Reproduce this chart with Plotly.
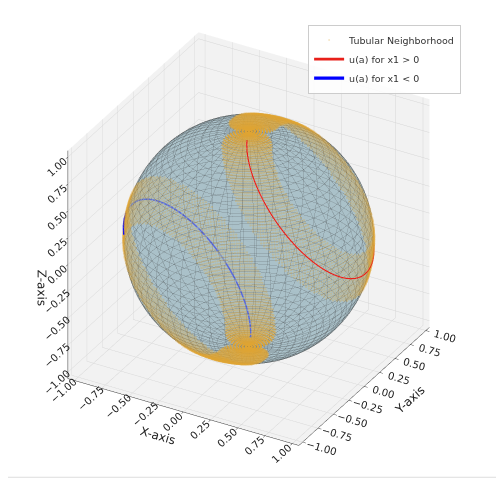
"""
Sphere with the tubular neighbourhood of u(a) and the two halves of the curve.
Writes out.html.
"""

import numpy as np
import plotly.graph_objects as go

# circle on S^2 traced by u(a): centre direction + angular radius
CIRCLE_CENTRE = [0.7065, 0.2545, 0.661]
CIRCLE_RADIUS_DEG = 48.6

# arc parameter (deg, 0 = point at the north pole)
RED_ARC_DEG = [10, 200]       # u(a) for x1 > 0 ; x1 < 0 is the antipodal arc
TUBE_ARC_DEG = [13, 347]
TUBE_HALF_WIDTH = 0.2         # rad

TICKS = [-1.0, -0.75, -0.5, -0.25, 0.0, 0.25, 0.5, 0.75, 1.0]
TICK_TEXT = [f"{t:.2f}".replace("-", "\u2212") for t in TICKS]

SPHERE_RES = 60
WIRE_LINES = 50
TUBE_GRID = (130, 260)


def circle_frame():
    c = np.array(CIRCLE_CENTRE, dtype=float)
    c /= np.linalg.norm(c)
    north = np.array([0.0, 0.0, 1.0])
    e1 = north - c.dot(north) * c
    e1 /= np.linalg.norm(e1)
    e2 = np.cross(c, e1)
    return c, e1, e2


def arc(a0, a1, n=300):
    c, e1, e2 = circle_frame()
    r = np.radians(CIRCLE_RADIUS_DEG)
    al = np.radians(np.linspace(a0, a1, n))
    return (np.cos(r) * c[None, :]
            + np.sin(r) * (np.cos(al)[:, None] * e1 + np.sin(al)[:, None] * e2))


def tube_mask(p):
    c, e1, e2 = circle_frame()
    r = np.radians(CIRCLE_RADIUS_DEG)
    beta = np.arccos(np.clip(p @ c, -1, 1))
    alpha = np.degrees(np.arctan2(p @ e2, p @ e1)) % 360
    a0, a1 = TUBE_ARC_DEG
    inside = (alpha >= a0) & (alpha <= a1)
    d_circ = np.abs(beta - r)
    ends = arc(a0, a1, 2)
    d_end = np.min(np.arccos(np.clip(p @ ends.T, -1, 1)), axis=1)
    d = np.where(inside, d_circ, d_end)
    return d < TUBE_HALF_WIDTH


fig = go.Figure()

# sphere
th = np.linspace(0, np.pi, SPHERE_RES)
ph = np.linspace(0, 2 * np.pi, SPHERE_RES)
TH, PH = np.meshgrid(th, ph)
fig.add_trace(go.Surface(
    x=np.sin(TH) * np.cos(PH), y=np.sin(TH) * np.sin(PH), z=np.cos(TH),
    colorscale=[[0, "#b6d6e2"], [1, "#b6d6e2"]],
    showscale=False, opacity=0.58, hoverinfo="skip", showlegend=False,
    lighting=dict(ambient=0.85, diffuse=0.35, specular=0.03, roughness=0.9),
    lightposition=dict(x=-1000, y=-2000, z=3000),
))

# wireframe
wx, wy, wz = [], [], []
tt = np.linspace(0, np.pi, 100)
for p in np.linspace(0, 2 * np.pi, WIRE_LINES, endpoint=False):
    wx += list(np.sin(tt) * np.cos(p)) + [None]
    wy += list(np.sin(tt) * np.sin(p)) + [None]
    wz += list(np.cos(tt)) + [None]
pp = np.linspace(0, 2 * np.pi, 181)
for t in np.linspace(0, np.pi, WIRE_LINES)[1:-1]:
    wx += list(np.sin(t) * np.cos(pp)) + [None]
    wy += list(np.sin(t) * np.sin(pp)) + [None]
    wz += list(np.full_like(pp, np.cos(t))) + [None]
fig.add_trace(go.Scatter3d(
    x=wx, y=wy, z=wz, mode="lines",
    line=dict(color="#333333", width=1), opacity=0.3,
    hoverinfo="skip", showlegend=False,
))

# tubular neighbourhood: grid points on the sphere close to either circle
gt = np.linspace(0, np.pi, TUBE_GRID[0])
gp = np.linspace(0, 2 * np.pi, TUBE_GRID[1], endpoint=False)
GT, GP = np.meshgrid(gt, gp)
P = np.stack([np.sin(GT) * np.cos(GP), np.sin(GT) * np.sin(GP), np.cos(GT)], axis=-1).reshape(-1, 3)
mask = tube_mask(P) | tube_mask(-P)
T = P[mask] * 1.003
fig.add_trace(go.Scatter3d(
    x=T[:, 0], y=T[:, 1], z=T[:, 2], mode="markers",
    marker=dict(size=1.3, color="#dfa432", line=dict(width=0)),
    opacity=0.28, name="Tubular Neighborhood", hoverinfo="skip",
))

red = arc(*RED_ARC_DEG) * 1.006
blue = -red
fig.add_trace(go.Scatter3d(
    x=red[:, 0], y=red[:, 1], z=red[:, 2], mode="lines",
    line=dict(color="#e8201a", width=2.6), name="u(a) for x1 > 0",
))
fig.add_trace(go.Scatter3d(
    x=blue[:, 0], y=blue[:, 1], z=blue[:, 2], mode="lines",
    line=dict(color="blue", width=3.2), name="u(a) for x1 < 0",
))


def axis(title):
    return dict(
        title=dict(text=title, font=dict(size=12, color="#222")),
        range=[-1.06, 1.06], tickvals=TICKS, ticktext=TICK_TEXT,
        tickfont=dict(size=11, color="#222"),
        showbackground=True, backgroundcolor="#f2f2f2",
        gridcolor="#d6d6d6", gridwidth=1, zeroline=False,
        showline=True, linecolor="#333", linewidth=1,
        ticks="outside", tickcolor="#333", ticklen=4,
        showspikes=False,
    )


fig.update_layout(
    paper_bgcolor="white",
    font=dict(family="DejaVu Sans", color="#222"),
    margin=dict(l=0, r=0, t=0, b=0),
    scene=dict(
        xaxis=axis("X-axis"), yaxis=axis("Y-axis"), zaxis=axis("Z-axis"),
        aspectmode="manual", aspectratio=dict(x=1.12, y=1.12, z=1.12),
        camera=dict(
            eye=dict(x=0.433 * 1.84, y=-0.75 * 1.84, z=0.5 * 1.84),
            center=dict(x=0.012, y=0.007, z=-0.03),
            projection=dict(type="orthographic"),
        ),
        domain=dict(x=[0, 1], y=[0, 1]),
    ),
    legend=dict(
        x=0.615, y=0.965, xanchor="left", yanchor="top",
        bgcolor="rgba(255,255,255,0.85)", bordercolor="#cccccc", borderwidth=1,
        font=dict(size=9.5, color="#333"), tracegroupgap=0,
    ),
    shapes=[dict(type="line", xref="paper", yref="paper", x0=0, x1=1, y0=0.01, y1=0.01,
                 line=dict(color="#dddddd", width=1))],
)

fig.write_html("out.html")
